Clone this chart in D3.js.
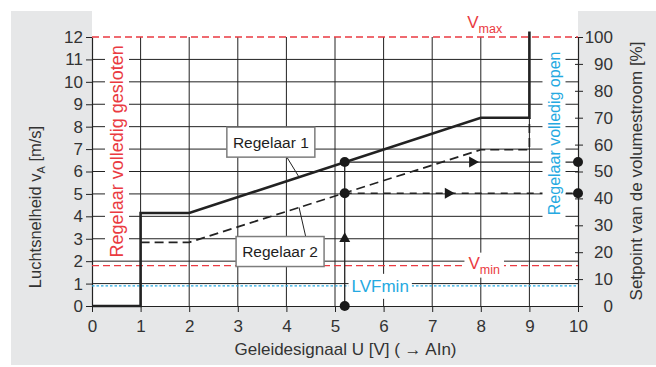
<!DOCTYPE html>
<html>
<head>
<meta charset="utf-8">
<script src="https://cdn.jsdelivr.net/npm/d3@7"></script>
<style>
  html, body { margin: 0; padding: 0; background: #fff; }
  svg { display: block; font-family: "Liberation Sans", Arial, sans-serif; }
</style>
</head>
<body>
<svg id="chart" width="656" height="367"></svg>
<script>
// Control signal (V) and air velocity (m/s)
const xTicks = [0, 1, 2, 3, 4, 5, 6, 7, 8, 9, 10];
const yTicks = [0, 1, 2, 3, 4, 5, 6, 7, 8, 9, 10, 11, 12];
const pctTicks = [0, 10, 20, 30, 40, 50, 60, 70, 80, 90, 100];

// Controller characteristics: [signal U (V), air velocity (m/s)]
const regelaar1 = [[0, 0], [1, 0], [1, 4.15], [2, 4.15], [8, 8.4], [9, 8.4], [9, 12.25]];
const regelaar2 = [[1, 2.84], [2, 2.84], [8, 6.97], [9, 6.97], [9, 8.4]];

// Reference levels (m/s)
const vMax = 12;
const vMin = 1.8;
const lvfMin = 0.9;

// Example operating point
const signalU = 5.2;
const setpointR1 = 6.42;
const setpointR2 = 5.03;
const circlePoints = [[signalU, 0], [signalU, setpointR2], [signalU, setpointR1], [10, setpointR1], [10, setpointR2]];
const arrowUp = [[signalU, 3.05]];
const arrowRight = [[7.85, setpointR1], [7.35, setpointR2]];

// Callout labels: text, box centre, leader target on curve
const callouts = [
  { text: "Regelaar 1", at: [3.68, 7.31], target: [4.26, 5.75] },
  { text: "Regelaar 2", at: [3.87, 2.43], target: [4.26, 4.40] }
];

const RED = "#ea3a41";
const CYAN = "#25a9e1";
const INK = "#222";
const TXT = "#333";

const svg = d3.select("#chart");
const M = { left: 92, right: 578, top: 37, bottom: 306 };

const x = d3.scaleLinear().domain([0, 10]).range([M.left, M.right]);
const y = d3.scaleLinear().domain([0, 12]).range([M.bottom, M.top]);
const yPct = d3.scaleLinear().domain([0, 100]).range([M.bottom, M.top]);

// Background panels
svg.append("rect").attr("x", 11).attr("y", 11).attr("width", 645).attr("height", 354).attr("fill", "#e6e7e8");
svg.append("rect").attr("x", M.left).attr("y", 0).attr("width", M.right - M.left).attr("height", M.bottom).attr("fill", "#fff");

// Grid
const grid = svg.append("g").attr("stroke", INK).attr("stroke-width", 1);
grid.selectAll("line.h").data(yTicks.filter(d => d > 0 && d < 12)).join("line")
  .attr("x1", M.left).attr("x2", M.right).attr("y1", d => y(d)).attr("y2", d => y(d));
grid.selectAll("line.v").data(xTicks.filter(d => d > 0 && d < 10)).join("line")
  .attr("y1", M.top).attr("y2", M.bottom).attr("x1", d => x(d)).attr("x2", d => x(d));

// Axes
function styleAxis(g) {
  g.selectAll("path.domain").attr("stroke", INK).attr("stroke-width", 1.2);
  g.selectAll(".tick line").attr("stroke", INK).attr("stroke-width", 1);
  g.selectAll(".tick text").attr("fill", TXT).style("font-size", "17px").style("font-family", null);
}
svg.append("g").attr("transform", `translate(${M.left},0)`)
  .call(d3.axisLeft(y).tickValues(yTicks).tickSizeInner(6).tickSizeOuter(0).tickPadding(3))
  .call(styleAxis).attr("font-family", null).attr("font-size", null);

svg.append("g").attr("transform", `translate(0,${M.bottom})`)
  .call(d3.axisBottom(x).tickValues(xTicks).tickSizeInner(6).tickSizeOuter(0).tickPadding(8))
  .call(styleAxis).attr("font-family", null).attr("font-size", null);

const rAxis = svg.append("g").attr("transform", `translate(${M.right},0)`)
  .call(d3.axisRight(yPct).tickValues(pctTicks).tickSizeInner(5).tickSizeOuter(0).tickPadding(3))
  .call(styleAxis).attr("font-family", null).attr("font-size", null);
rAxis.selectAll(".tick line").attr("x1", -3);
rAxis.selectAll(".tick text").attr("text-anchor", "end").attr("x", 35);

// Reference lines
svg.append("line").attr("x1", x(0)).attr("x2", x(10)).attr("y1", y(vMax)).attr("y2", y(vMax))
  .attr("stroke", RED).attr("stroke-width", 1.4).attr("stroke-dasharray", "7,4");
svg.append("line").attr("x1", x(0)).attr("x2", x(10)).attr("y1", y(vMin)).attr("y2", y(vMin))
  .attr("stroke", RED).attr("stroke-width", 1.4).attr("stroke-dasharray", "7,4");
svg.append("line").attr("x1", x(0)).attr("x2", x(10)).attr("y1", y(lvfMin)).attr("y2", y(lvfMin))
  .attr("stroke", CYAN).attr("stroke-width", 1.4).attr("stroke-dasharray", "2.5,2");

// Controller curves
const line = d3.line().x(d => x(d[0])).y(d => y(d[1]));
svg.append("path").datum(regelaar2).attr("d", line).attr("fill", "none")
  .attr("stroke", INK).attr("stroke-width", 1.7).attr("stroke-dasharray", "9,5");
svg.append("path").datum(regelaar1).attr("d", line).attr("fill", "none")
  .attr("stroke", INK).attr("stroke-width", 2.6).attr("stroke-linejoin", "miter");

// Operating point guides
svg.append("line").attr("x1", x(signalU)).attr("x2", x(signalU)).attr("y1", y(0)).attr("y2", y(setpointR1))
  .attr("stroke", INK).attr("stroke-width", 1.3);
svg.append("line").attr("x1", x(signalU)).attr("x2", x(10)).attr("y1", y(setpointR1)).attr("y2", y(setpointR1))
  .attr("stroke", INK).attr("stroke-width", 1.3);
svg.append("line").attr("x1", x(signalU)).attr("x2", x(10)).attr("y1", y(setpointR2)).attr("y2", y(setpointR2))
  .attr("stroke", INK).attr("stroke-width", 1.3).attr("stroke-dasharray", "7,6");

// Labels with white backing boxes
function boxedText(g, pad) {
  const t = g.select("text").node().getBBox();
  g.insert("rect", "text")
    .attr("x", t.x - pad[0]).attr("y", t.y - pad[1])
    .attr("width", t.width + 2 * pad[0]).attr("height", t.height + 2 * pad[1])
    .attr("fill", "#fff");
}

const gClosed = svg.append("g").attr("transform", `translate(123,${y(6.9)}) rotate(-90)`);
gClosed.append("text").attr("text-anchor", "middle").attr("fill", RED).style("font-size", "18px")
  .text("Regelaar volledig gesloten");
boxedText(gClosed, [2, 2]);

const gOpen = svg.append("g").attr("transform", `translate(559.5,${y(7.7)}) rotate(-90)`);
gOpen.append("text").attr("text-anchor", "middle").attr("fill", CYAN).style("font-size", "16px")
  .text("Regelaar volledig open");
boxedText(gOpen, [2, 3]);

const gVmin = svg.append("g").attr("transform", `translate(${x(8.07)},${y(vMin) + 3})`);
const tVmin = gVmin.append("text").attr("text-anchor", "middle").attr("fill", RED).style("font-size", "17px");
tVmin.append("tspan").text("V");
tVmin.append("tspan").attr("dy", 5).style("font-size", "12.5px").text("min");
boxedText(gVmin, [4, 1]);

const gLvf = svg.append("g").attr("transform", `translate(${x(5.93)},${y(lvfMin) + 6})`);
gLvf.append("text").attr("text-anchor", "middle").attr("fill", CYAN).style("font-size", "17px").text("LVFmin");
boxedText(gLvf, [3, 3]);

const tVmax = svg.append("text").attr("x", x(7.72)).attr("y", 28).attr("fill", RED).style("font-size", "17px");
tVmax.append("tspan").text("V");
tVmax.append("tspan").attr("dy", 5).style("font-size", "12.5px").text("max");

// Markers
svg.selectAll("circle.pt").data(circlePoints).join("circle")
  .attr("cx", d => x(d[0])).attr("cy", d => y(d[1])).attr("r", 5).attr("fill", "#1a1a1a");
const tri = 5.5;
svg.selectAll("path.up").data(arrowUp).join("path")
  .attr("transform", d => `translate(${x(d[0])},${y(d[1])})`)
  .attr("d", `M0,${-tri}L${tri},${tri * 0.8}L${-tri},${tri * 0.8}Z`).attr("fill", "#1a1a1a");
svg.selectAll("path.right").data(arrowRight).join("path")
  .attr("transform", d => `translate(${x(d[0])},${y(d[1])})`)
  .attr("d", `M${tri},0L${-tri * 0.8},${-tri}L${-tri * 0.8},${tri}Z`).attr("fill", "#1a1a1a");

// Callouts
callouts.forEach(c => {
  const g = svg.append("g");
  const cx = x(c.at[0]), cy = y(c.at[1]);
  const w = 88, h = 30;
  const fromY = c.target[1] < c.at[1] ? cy + h / 2 : cy - h / 2;
  g.append("line").attr("x1", cx + 16 * (c.target[1] < c.at[1] ? 1 : 1.6)).attr("y1", fromY)
    .attr("x2", x(c.target[0])).attr("y2", y(c.target[1])).attr("stroke", INK).attr("stroke-width", 1);
  g.append("rect").attr("x", cx - w / 2).attr("y", cy - h / 2).attr("width", w).attr("height", h)
    .attr("fill", "#fff").attr("stroke", "#7d7d7d").attr("stroke-width", 1.5);
  g.append("text").attr("x", cx).attr("y", cy + 5.5).attr("text-anchor", "middle")
    .attr("fill", "#1e1e1e").style("font-size", "15.5px").text(c.text);
});

// Axis titles
const tLeft = svg.append("text").attr("transform", "translate(41,207) rotate(-90)")
  .attr("text-anchor", "middle").attr("fill", TXT).style("font-size", "16.5px");
tLeft.append("tspan").text("Luchtsnelheid v");
tLeft.append("tspan").attr("dy", 4).style("font-size", "11px").text("A");
tLeft.append("tspan").attr("dy", -4).text(" [m/s]");

svg.append("text").attr("transform", "translate(642,171) rotate(-90)")
  .attr("text-anchor", "middle").attr("fill", TXT).style("font-size", "17px")
  .text("Setpoint van de volumestroom [%]");

svg.append("text").attr("x", 345.5).attr("y", 355).attr("text-anchor", "middle")
  .attr("fill", TXT).style("font-size", "17px")
  .text("Geleidesignaal U [V] ( \u2192 AIn)");
</script>
</body>
</html>
